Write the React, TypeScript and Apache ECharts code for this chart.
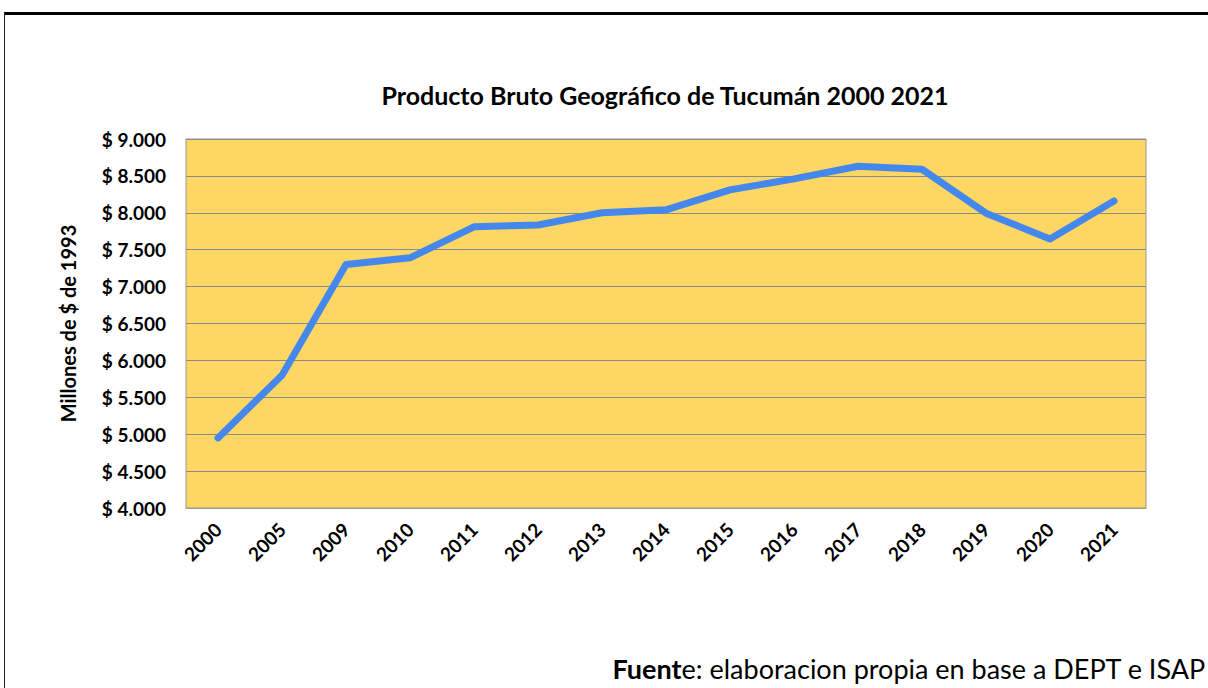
import React, { useEffect, useRef } from "react";
import * as echarts from "echarts";

const years = ["2000", "2005", "2009", "2010", "2011", "2012", "2013", "2014", "2015", "2016", "2017", "2018", "2019", "2020", "2021"];
const pbg = [4950, 5800, 7300, 7390, 7810, 7835, 8000, 8040, 8310, 8460, 8630, 8590, 7995, 7645, 8160];
const yMin = 4000;
const yMax = 9000;
const yStep = 500;

const titleText = "Producto Bruto Geográfico de Tucumán 2000 2021";
const yAxisName = "Millones de $ de 1993";

function fmt(v: number): string {
  const s = String(Math.round(v));
  return "$ " + s.replace(/\B(?=(\d{3})+(?!\d))/g, ".");
}

export default function App() {
  const ref = useRef<HTMLDivElement>(null);
  useEffect(() => {
    if (!ref.current) return;
    const chart = echarts.init(ref.current, null, { renderer: "svg" });
    const font = "Lato, 'Noto Sans', sans-serif";
    chart.setOption({
      animation: false,
      backgroundColor: "#ffffff",
      textStyle: { fontFamily: font },
      title: {
        text: titleText,
        left: 660,
        textAlign: "center",
        top: 77,
        textStyle: { fontFamily: font, fontSize: 25, fontWeight: "bold", color: "#000" },
      },
      grid: {
        left: 186,
        right: 62,
        top: 139,
        bottom: 180,
        show: true,
        backgroundColor: "#FDD663",
        borderColor: "#9a9a9a",
        borderWidth: 1,
      },
      xAxis: {
        type: "category",
        data: years,
        boundaryGap: true,
        axisLine: { show: true, lineStyle: { color: "#9a9a9a", width: 1 } },
        axisTick: { show: false },
        axisLabel: {
          rotate: 45,
          margin: 18,
          fontFamily: font,
          fontSize: 19,
          fontWeight: "bold",
          color: "#000",
        },
      },
      yAxis: {
        type: "value",
        min: yMin,
        max: yMax,
        interval: yStep,
        name: yAxisName,
        nameLocation: "middle",
        nameGap: 108,
        nameRotate: 90,
        nameTextStyle: { fontFamily: font, fontSize: 20, fontWeight: "bold", color: "#000" },
        axisLine: { show: false },
        axisTick: { show: false },
        splitLine: { show: true, lineStyle: { color: "#8c8c8c", width: 1 } },
        axisLabel: {
          formatter: (v: number) => fmt(v),
          margin: 20,
          fontFamily: font,
          fontSize: 19,
          fontWeight: "bold",
          color: "#000",
        },
      },
      series: [
        {
          type: "line",
          data: pbg,
          symbol: "none",
          lineStyle: { color: "#4488EE", width: 7, cap: "round", join: "round" },
        },
      ],
      graphic: [
        { type: "rect", shape: { x: 4, y: 12, width: 1204, height: 3 }, style: { fill: "#000" }, silent: true },
        { type: "rect", shape: { x: 4, y: 12, width: 1, height: 676 }, style: { fill: "#222" }, silent: true },
        {
          type: "text",
          right: 2,
          top: 655,
          style: {
            text: "{b|Fuent}{n|e: elaboracion propia en base a DEPT e ISAP}",
            rich: {
              b: { fontFamily: font, fontSize: 27, fontWeight: "bold", fill: "#000" },
              n: { fontFamily: font, fontSize: 27, fontWeight: "normal", fill: "#000" },
            },
          },
        },
      ],
    });
    return () => chart.dispose();
  }, []);
  return <div ref={ref} style={{ position: "fixed", left: 0, top: 0, width: 1208, height: 688 }} />;
}
